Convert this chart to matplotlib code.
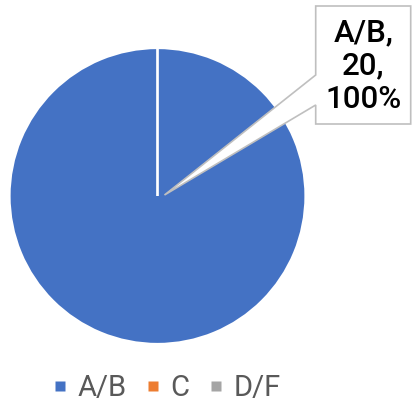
import matplotlib.pyplot as plt
from matplotlib.patches import Polygon
from matplotlib.lines import Line2D

plt.rcParams['font.family'] = ['Roboto', 'DejaVu Sans']

# ── data ──────────────────────────────────────────────────────────────────────
categories = ["A/B", "C", "D/F"]
counts     = [20, 0, 0]
colors     = ["#4472C4", "#ED7D31", "#A5A5A5"]

W, H = 413, 412
fig = plt.figure(figsize=(W / 100, H / 100), dpi=100)
ax  = fig.add_axes([0, 0, 1, 1])

# pie, in pixel-like data units (y up)
cx, cy, r = 157.5, H - 196, 148
wedges, _ = ax.pie(counts, colors=colors, startangle=90, counterclock=False,
                   center=(cx, cy), radius=r,
                   wedgeprops=dict(edgecolor="white", linewidth=1.6))

# callout box with pointer to the slice
total = sum(counts)
pct   = 100 * counts[0] / total
x0, x1 = 315.7, 410.7
y0, y1 = H - 6, H - 124
callout = Polygon([(x0, y0), (x1, y0), (x1, y1), (x0, y1),
                   (x0, H - 105), (cx + 7, cy + 1), (x0, H - 75)],
                  closed=True, facecolor="white", edgecolor="#BFBFBF",
                  linewidth=1.2, zorder=5)
ax.add_patch(callout)
ax.text((x0 + x1) / 2, (y0 + y1) / 2 - 1,
        f"{categories[0]},\n{counts[0]},\n{pct:.0f}%",
        ha="center", va="center", fontsize=22.5, color="black",
        fontweight="medium", linespacing=1.2, zorder=6)

ax.set_xlim(0, W)
ax.set_ylim(0, H)
ax.axis("off")

handles = [Line2D([], [], ls="none", marker="s", markersize=6.5,
                  markerfacecolor=c, markeredgecolor="none") for c in colors]
ax.legend(handles, categories, loc="center", bbox_to_anchor=(0.405, 0.058),
          bbox_transform=fig.transFigure, ncol=3, frameon=False,
          fontsize=21, handlelength=0.4, handletextpad=0.4,
          columnspacing=0.7, labelcolor="#595959")

fig.savefig("out.png", dpi=100)
